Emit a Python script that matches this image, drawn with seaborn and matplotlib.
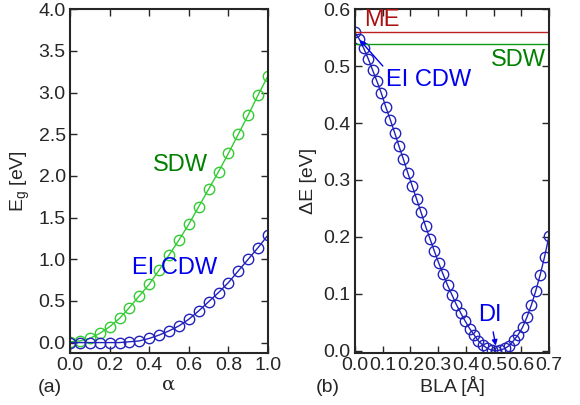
import numpy as np
import pandas as pd
import matplotlib
matplotlib.use("Agg")
import matplotlib.pyplot as plt
import seaborn as sns

# panel (a): gap vs alpha
alpha = [0.0, 0.05, 0.1, 0.15, 0.2, 0.25, 0.3, 0.35, 0.4, 0.45, 0.5,
         0.55, 0.6, 0.65, 0.7, 0.75, 0.8, 0.85, 0.9, 0.95, 1.0]
eg_sdw = [0.01, 0.02, 0.05, 0.11, 0.19, 0.29, 0.42, 0.56, 0.70, 0.87, 1.05,
          1.23, 1.42, 1.63, 1.84, 2.05, 2.27, 2.50, 2.73, 2.97, 3.20]
eg_cdw = [0.0, 0.0, 0.0, 0.0, 0.0, 0.0, 0.01, 0.02, 0.05, 0.09, 0.14,
          0.20, 0.28, 0.38, 0.49, 0.60, 0.72, 0.86, 1.00, 1.14, 1.29]

# panel (b): energy vs bond length alternation
bla = np.linspace(0.0, 0.7, 45)
de_cdw = [0.559, 0.547, 0.531, 0.513, 0.493, 0.473, 0.452, 0.428, 0.406,
          0.383, 0.359, 0.336, 0.312, 0.289, 0.266, 0.243, 0.219, 0.197,
          0.175, 0.154, 0.134, 0.115, 0.098, 0.081, 0.066, 0.052, 0.039,
          0.028, 0.017, 0.010, 0.004, 0.001, 0.0, 0.001, 0.004, 0.009,
          0.018, 0.028, 0.041, 0.059, 0.080, 0.105, 0.133, 0.165, 0.201]
e_me = 0.5605
e_sdw = 0.539

sns.set_style("ticks")
plt.rcParams['font.family'] = ['Liberation Sans', 'DejaVu Sans']
plt.rcParams['mathtext.fontset'] = 'custom'
plt.rcParams['mathtext.rm'] = 'Liberation Sans'
plt.rcParams['mathtext.it'] = 'Liberation Sans'

fig = plt.figure(figsize=(5.8, 4.05), dpi=100)
ax1 = fig.add_axes([0.1207, 0.1284, 0.3414, 0.849])
ax2 = fig.add_axes([0.612, 0.1284, 0.3345, 0.849])

green = '#33cc33'
blue = '#2222bb'
mk = dict(marker='o', markerfacecolor='none', markersize=7.5, markeredgewidth=1.0, linewidth=1.0)
fs = 14

dfa = pd.DataFrame({'alpha': alpha, 'sdw': eg_sdw, 'cdw': eg_cdw})
sns.lineplot(data=dfa, x='alpha', y='sdw', ax=ax1, color=green, markeredgecolor=green, **mk)
sns.lineplot(data=dfa, x='alpha', y='cdw', ax=ax1, color=blue, markeredgecolor=blue, **mk)
ax1.set_xlim(0, 1.0)
ax1.set_ylim(-0.125, 4.0)
ax1.set_xticks(np.arange(0, 1.01, 0.2))
ax1.set_yticks(np.arange(0, 4.01, 0.5))
ax1.set_xlabel('α', family='DejaVu Serif', fontsize=fs, labelpad=1)
ax1.set_ylabel('E$_\\mathrm{g}$ [eV]', fontsize=fs, labelpad=5)
ax1.text(0.555, 2.13, 'SDW', color='#008000', fontsize=17, ha='center', va='center')
ax1.text(0.53, 0.89, 'EI CDW', color='#0000ee', fontsize=17, ha='center', va='center')

dfb = pd.DataFrame({'bla': bla, 'de': de_cdw})
sns.lineplot(data=dfb, x='bla', y='de', ax=ax2, color=blue, markeredgecolor=blue, **mk)
ax2.axhline(e_me, color='#bb2222', lw=1.0)
ax2.axhline(e_sdw, color='#119911', lw=1.0)
ax2.set_xlim(0, 0.7)
ax2.set_ylim(-0.004, 0.6)
ax2.set_xticks(np.arange(0, 0.71, 0.1))
ax2.set_yticks(np.arange(0, 0.61, 0.1))
ax2.set_xlabel('BLA [Å]', fontsize=fs, labelpad=1)
ax2.set_ylabel('ΔE [eV]', fontsize=fs, labelpad=5)
ax2.text(0.032, 0.5625, 'ME', color='#aa1111', fontsize=17, ha='left', va='bottom')
ax2.text(0.69, 0.511, 'SDW', color='#008000', fontsize=17, ha='right', va='center')
ax2.annotate('EI CDW', xy=(0.017, 0.546), xytext=(0.112, 0.475),
             color='#0000ee', fontsize=17, ha='left', va='center',
             arrowprops=dict(arrowstyle='-|>', color='#0000ee', lw=1.0,
                             shrinkA=0, shrinkB=0, mutation_scale=8,
                             relpos=(0.02, 0.9)))
ax2.annotate('DI', xy=(0.508, 0.009), xytext=(0.487, 0.063),
             color='#0000ee', fontsize=17, ha='center', va='center',
             arrowprops=dict(arrowstyle='-|>', color='#0000ee', lw=1.0,
                             shrinkA=2, shrinkB=0, mutation_scale=8))

for ax in (ax1, ax2):
    ax.tick_params(direction='in', top=True, right=True, length=5, width=1,
                   labelsize=fs, pad=3)
    for s in ax.spines.values():
        s.set_linewidth(1.5)
    ax.set_xticklabels([f'{t:.1f}' for t in ax.get_xticks()])
    ax.set_yticklabels([f'{t:.1f}' for t in ax.get_yticks()])

fig.text(50 / 580, 1 - 388 / 405, '(a)', fontsize=fs, ha='center', va='center')
fig.text(328 / 580, 1 - 387 / 405, '(b)', fontsize=fs, ha='center', va='center')

fig.savefig('out.png', dpi=100)
